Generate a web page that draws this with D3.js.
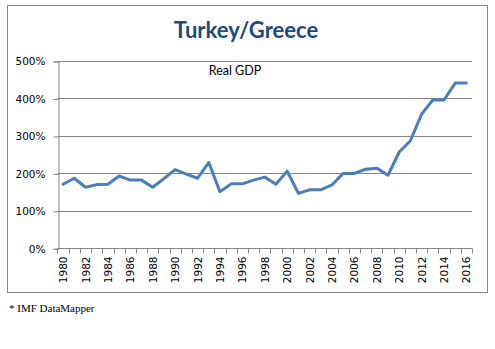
<!DOCTYPE html>
<html>
<head>
<meta charset="utf-8">
<script src="https://cdn.jsdelivr.net/npm/d3@7"></script>
<style>
  html, body { margin: 0; padding: 0; background: #ffffff; }
  svg { display: block; }
</style>
</head>
<body>
<svg id="chart" width="495" height="349"></svg>
<script>
// Turkey / Greece real GDP ratio, 1980–2016 (source: IMF DataMapper)
const years = d3.range(1980, 2017).map(String);
const ratioPct = [
  171, 187, 163, 170, 171, 193, 182, 182, 163, 186,
  210, 198, 187, 229, 151, 172, 172, 182, 190, 171,
  206, 147, 156, 156, 169, 200, 200, 211, 214, 195,
  257, 287, 358, 396, 396, 441, 441
];
const yTicks = [0, 100, 200, 300, 400, 500];
const yearLabels = years.filter((d, i) => i % 2 === 0);

const svg = d3.select("#chart");
const plot = { left: 57.5, right: 472, top: 61, bottom: 248.3 };

// outer chart frame
svg.append("rect")
  .attr("x", 7.5).attr("y", 5.5)
  .attr("width", 480).attr("height", 287)
  .attr("fill", "#fff").attr("stroke", "#868686").attr("stroke-width", 1);

const x = d3.scaleBand().domain(years).range([plot.left, plot.right]);
const y = d3.scaleLinear().domain([0, 500]).range([plot.bottom, plot.top]);

// horizontal gridlines
svg.append("g")
  .selectAll("line")
  .data(yTicks.filter(d => d > 0))
  .join("line")
  .attr("x1", plot.left).attr("x2", plot.right)
  .attr("y1", d => Math.round(y(d)) + 0.5).attr("y2", d => Math.round(y(d)) + 0.5)
  .attr("stroke", "#868686").attr("stroke-width", 1);

// y axis
const yAxis = d3.axisLeft(y).tickValues(yTicks).tickFormat(d => d + "%").tickSizeOuter(0).tickSize(5).tickPadding(8);
const gy = svg.append("g").attr("transform", `translate(${Math.round(plot.left) + 0.5},0.5)`).call(yAxis);
gy.select(".domain").attr("stroke", "#868686");
gy.selectAll(".tick line").attr("stroke", "#868686");
gy.selectAll(".tick text")
  .attr("fill", "#000")
  .style("font-family", "Verdana, 'DejaVu Sans', sans-serif")
  .style("font-size", "10.5px");

// x axis: ticks sit between categories, labels every other year
const gx = svg.append("g").attr("transform", `translate(0,${Math.round(plot.bottom) + 0.5})`);
gx.append("line")
  .attr("x1", plot.left).attr("x2", plot.right)
  .attr("stroke", "#868686");
const bounds = years.map(d => x(d)).concat([x(years[years.length - 1]) + x.bandwidth()]);
gx.selectAll("line.tk")
  .data(bounds)
  .join("line")
  .attr("class", "tk")
  .attr("x1", d => Math.round(d) + 0.5).attr("x2", d => Math.round(d) + 0.5)
  .attr("y1", 0).attr("y2", 5)
  .attr("stroke", "#868686");
gx.selectAll("text")
  .data(yearLabels)
  .join("text")
  .attr("transform", d => `translate(${x(d) + x.bandwidth() / 2 + 4},8) rotate(-90)`)
  .attr("text-anchor", "end")
  .attr("fill", "#000")
  .style("font-family", "Verdana, 'DejaVu Sans', sans-serif")
  .style("font-size", "10.5px")
  .text(d => d);

// data line
const line = d3.line()
  .x((d, i) => x(years[i]) + x.bandwidth() / 2)
  .y(d => y(d));
svg.append("path")
  .datum(ratioPct)
  .attr("d", line)
  .attr("fill", "none")
  .attr("stroke", "#4A7EBB")
  .attr("stroke-width", 3)
  .attr("stroke-linejoin", "round")
  .attr("stroke-linecap", "round");

// titles
svg.append("text")
  .attr("x", 246).attr("y", 38)
  .attr("text-anchor", "middle")
  .attr("fill", "#1F497D")
  .style("font-family", "Lato, 'Open Sans', sans-serif")
  .style("font-weight", "bold")
  .style("font-size", "22px")
  .text("Turkey/Greece");

svg.append("text")
  .attr("x", 235).attr("y", 75)
  .attr("text-anchor", "middle")
  .attr("fill", "#000")
  .style("font-family", "Lato, 'Open Sans', sans-serif")
  .style("font-size", "12.5px")
  .text("Real GDP");

// source note
svg.append("text")
  .attr("x", 9).attr("y", 312)
  .attr("fill", "#000")
  .style("font-family", "'Liberation Serif', 'DejaVu Serif', serif")
  .style("font-size", "11px")
  .text("* IMF DataMapper");
</script>
</body>
</html>
